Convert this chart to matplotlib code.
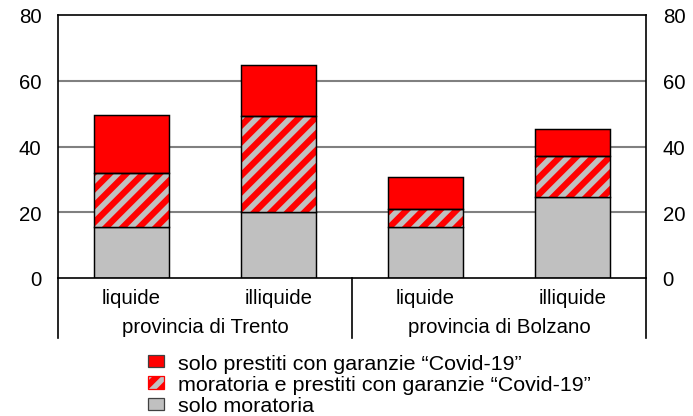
import matplotlib
matplotlib.use('Agg')
import matplotlib.pyplot as plt
import matplotlib.patches as mpatches
import numpy as np

### Data ###
bar_labels = ['liquide', 'illiquide', 'liquide', 'illiquide']
group_labels = ['provincia di Trento', 'provincia di Bolzano']
solo_moratoria = [15.5, 20.0, 15.5, 24.6]
moratoria_e_prestiti = [16.4, 29.2, 5.5, 12.5]
solo_prestiti = [17.6, 15.5, 9.7, 8.2]
series_names = ['solo prestiti con garanzie \u201cCovid-19\u201d',
                'moratoria e prestiti con garanzie \u201cCovid-19\u201d',
                'solo moratoria']

### Style ###
plt.rcParams['font.family'] = ['Liberation Sans', 'DejaVu Sans']
plt.rcParams['hatch.linewidth'] = 3.0
fsize = 9.8
lsize = 10.3
grey = '#c0c0c0'
red = '#ff0000'

dpi = 150
W, H = 693, 417
fig = plt.figure(figsize=(W / dpi, H / dpi), dpi=dpi)
ax = fig.add_axes([58 / W, 1 - 279 / H, 588 / W, 263 / H])

x = np.arange(len(bar_labels))
bw = 0.51
s1 = np.array(solo_moratoria)
s2 = np.array(moratoria_e_prestiti)
s3 = np.array(solo_prestiti)

# grid behind bars
for yv in [20, 40, 60]:
    ax.axhline(yv, color='#808080', lw=1.0, zorder=0)

ax.bar(x, s1, bw, color=grey, edgecolor='black', lw=0.7, zorder=2)
ax.bar(x, s2, bw, bottom=s1, color=grey, edgecolor=red, hatch='///', lw=0, zorder=2)
ax.bar(x, s2, bw, bottom=s1, fill=False, edgecolor='black', lw=0.7, zorder=3)
ax.bar(x, s3, bw, bottom=s1 + s2, color=red, edgecolor='black', lw=0.7, zorder=2)

ax.set_xlim(-0.5, 3.5)
ax.set_ylim(0, 80)
ax.set_yticks([0, 20, 40, 60, 80])
ax.tick_params(axis='y', length=0, pad=8, labelsize=fsize, left=True, right=True,
               labelleft=True, labelright=True)
ax.set_xticks([])
for sp in ax.spines.values():
    sp.set_linewidth(0.8)

# category labels and separators below the axis
trans = ax.get_xaxis_transform()
for xi, lab in zip(x, bar_labels):
    ax.text(xi, -0.075, lab, transform=trans, ha='center', va='center', fontsize=fsize)
for gi, g in enumerate(group_labels):
    ax.text(0.5 + 2 * gi, -0.185, g, transform=trans, ha='center', va='center', fontsize=fsize)
for xs in [-0.5, 1.5, 3.5]:
    ax.plot([xs, xs], [0, -0.228], transform=trans, color='black', lw=0.8, clip_on=False)

### Legend ###
handles = [mpatches.Patch(facecolor=red, edgecolor='#404040', lw=0.6),
           mpatches.Patch(facecolor=grey, edgecolor=red, hatch='///', lw=0.6),
           mpatches.Patch(facecolor=grey, edgecolor='#404040', lw=0.6)]
leg = fig.legend(handles, series_names, loc='upper left', bbox_to_anchor=(148 / W, 1 - 355 / H),
                 frameon=False, fontsize=lsize, handlelength=0.75, handleheight=0.5,
                 handletextpad=0.65, labelspacing=0.1, borderaxespad=0, borderpad=0)

fig.savefig('out.png', dpi=dpi)
